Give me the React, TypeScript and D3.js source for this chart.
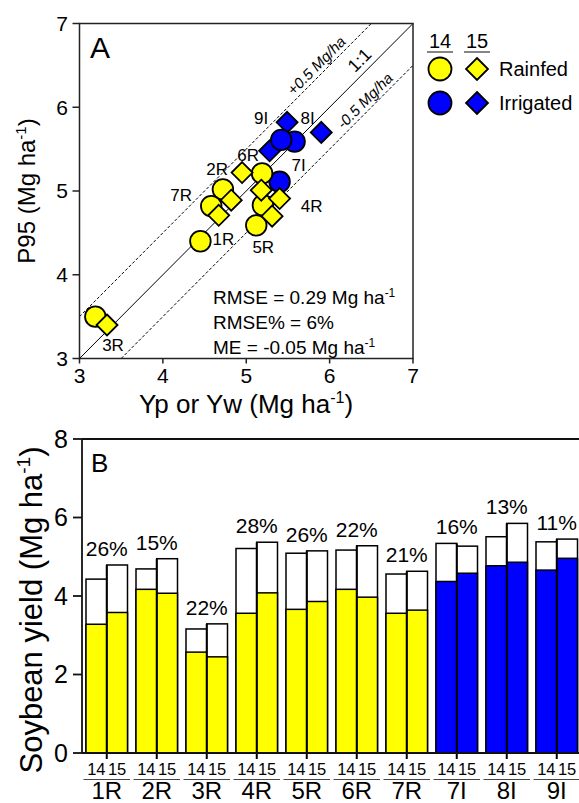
import React from 'react';
import * as d3 from 'd3';

// ---------- Data ----------
const sites = ['1R', '2R', '3R', '4R', '5R', '6R', '7R', '7I', '8I', '9I'];
const regimes = ['Rainfed', 'Rainfed', 'Rainfed', 'Rainfed', 'Rainfed', 'Rainfed', 'Rainfed', 'Irrigated', 'Irrigated', 'Irrigated'];
const years = ['14', '15'];

// Panel A: simulated (Yp or Yw) vs P95
const ypYw14 = [4.45, 4.72, 3.19, 5.2, 5.12, 5.19, 4.58, 5.4, 5.58, 5.42];
const p95Y14 = [4.4, 5.02, 3.5, 4.83, 4.59, 5.21, 4.82, 5.11, 5.59, 5.61];
const ypYw15 = [4.82, 4.95, 3.33, 5.4, 5.31, 5.18, 4.67, 5.28, 5.9, 5.49];
const p95Y15 = [4.89, 5.22, 3.4, 4.91, 4.7, 5.01, 4.71, 5.48, 5.7, 5.82];
const statLines = ['RMSE = 0.29 Mg ha', 'RMSE% = 6%', 'ME = -0.05 Mg ha'];
const statSup = [true, false, true];

// Panel B: yield potential (total bar) and actual yield (coloured part)
const potential14 = [4.43, 4.69, 3.16, 5.21, 5.09, 5.17, 4.56, 5.34, 5.51, 5.38];
const potential15 = [4.79, 4.95, 3.29, 5.37, 5.15, 5.28, 4.63, 5.27, 5.85, 5.45];
const actual14 = [3.28, 4.17, 2.57, 3.56, 3.66, 4.17, 3.56, 4.37, 4.77, 4.66];
const actual15 = [3.58, 4.07, 2.45, 4.08, 3.86, 3.97, 3.64, 4.58, 4.86, 4.96];
const gapLabels = ['26%', '15%', '22%', '28%', '26%', '22%', '21%', '16%', '13%', '11%'];

const ticksA = [3, 4, 5, 6, 7];
const ticksB = [0, 2, 4, 6, 8];

// ---------- Style ----------
const FONT = 'Arial, "Liberation Sans", Helvetica, sans-serif';
const YELLOW = '#FFFF00';
const BLUE = '#0000FF';
const colorOf = (r: string) => (r === 'Irrigated' ? BLUE : YELLOW);

// label placements relative to a point (site -> which point, dx, dy)
const labelPlacement: Record<string, { year: string; dx: number; dy: number }> = {
  '1R': { year: '14', dx: 23, dy: -2 },
  '2R': { year: '15', dx: -25, dy: -4 },
  '3R': { year: '15', dx: 6, dy: 20 },
  '4R': { year: '15', dx: 32, dy: 8 },
  '5R': { year: '14', dx: 7, dy: 22 },
  '6R': { year: '14', dx: -14, dy: -18 },
  '7R': { year: '14', dx: -30, dy: -11 },
  '7I': { year: '14', dx: 19, dy: -17 },
  '8I': { year: '14', dx: 13, dy: -24 },
  '9I': { year: '15', dx: -26, dy: -4 },
};

const diamond = (cx: number, cy: number, h: number) =>
  `M${cx},${cy - h}L${cx + h},${cy}L${cx},${cy + h}L${cx - h},${cy}Z`;

export default function App() {
  // ----- Panel A scales -----
  const xA = d3.scaleLinear().domain([3, 7]).range([79.5, 413]);
  const yA = d3.scaleLinear().domain([3, 7]).range([358.5, 23.5]);

  const pts = sites.flatMap((s, i) => [
    { site: s, year: '14', regime: regimes[i], x: ypYw14[i], y: p95Y14[i] },
    { site: s, year: '15', regime: regimes[i], x: ypYw15[i], y: p95Y15[i] },
  ]);
  const order = (p: any) =>
    p.regime === 'Irrigated' ? (p.year === '15' ? 0 : 1) : p.year === '14' ? 2 : 3;
  const sortedPts = [...pts].sort((a, b) => order(a) - order(b));

  const line = d3
    .line<[number, number]>()
    .x((d) => xA(d[0]))
    .y((d) => yA(d[1]));

  const angle = (Math.atan2(yA(7) - yA(3), xA(7) - xA(3)) * 180) / Math.PI;

  const lineText = (xv: number, off: number, txt: string, size: number, up: number, italic = false) => (
    <text
      transform={`translate(${xA(xv)},${yA(xv + off)}) rotate(${angle})`}
      y={-up}
      textAnchor="middle"
      fontSize={size}
      fontFamily={FONT}
      fontStyle={italic ? 'italic' : 'normal'}
    >
      {txt}
    </text>
  );

  // ----- Panel B scales -----
  const xB = d3.scaleBand<string>().domain(sites).range([82, 581.5]).paddingInner(0.17).paddingOuter(0.08);
  const xSub = d3.scaleBand<string>().domain(years).range([0, xB.bandwidth()]);
  const yB = d3.scaleLinear().domain([0, 8]).range([753, 439]);

  const bars = sites.flatMap((s, i) => [
    { site: s, year: '14', regime: regimes[i], pot: potential14[i], act: actual14[i] },
    { site: s, year: '15', regime: regimes[i], pot: potential15[i], act: actual15[i] },
  ]);

  return (
    <svg
      width={579}
      height={803}
      style={{ position: 'absolute', left: 0, top: 0, background: '#fff' }}
      fontFamily={FONT}
    >
      <rect x={0} y={0} width={579} height={803} fill="#fff" />
      {/* ================= Panel A ================= */}
      <g>
        {/* 1:1 and ±0.5 lines */}
        <path d={line([[3, 3], [7, 7]])!} stroke="#000" strokeWidth={1} fill="none" />
        <path d={line([[3, 3.5], [6.5, 7]])!} stroke="#000" strokeWidth={1} strokeDasharray="3,2" fill="none" />
        <path d={line([[3.5, 3], [7, 6.5]])!} stroke="#000" strokeWidth={1} strokeDasharray="3,2" fill="none" />
        {lineText(5.92, 0.5, '+0.5 Mg/ha', 15, 4, true)}
        {lineText(6.46, 0, '1:1', 18, 6)}
        {lineText(6.5, -0.5, '-0.5 Mg/ha', 15, 4, true)}

        {/* frame */}
        <rect x={xA(3)} y={yA(7)} width={xA(7) - xA(3)} height={yA(3) - yA(7)} fill="none" stroke="#222" strokeWidth={1.5} />
        {ticksA.map((t) => (
          <g key={'ya' + t}>
            <line x1={xA(3) - 7} x2={xA(3)} y1={yA(t)} y2={yA(t)} stroke="#222" strokeWidth={1.5} />
            <text x={68} y={yA(t)} dy="0.35em" textAnchor="end" fontSize={21}>
              {t}
            </text>
          </g>
        ))}
        {ticksA.map((t) => (
          <g key={'xa' + t}>
            <line x1={xA(t)} x2={xA(t)} y1={yA(3)} y2={yA(3) + 5} stroke="#222" strokeWidth={1.5} />
            <text x={xA(t)} y={383} textAnchor="middle" fontSize={21}>
              {t}
            </text>
          </g>
        ))}
        <text x={246} y={413} textAnchor="middle" fontSize={26}>
          Yp or Yw (Mg ha<tspan fontSize={16} dy={-10}>-1</tspan>
          <tspan dy={10}>)</tspan>
        </text>
        <text transform={`translate(35,${(yA(3) + yA(7)) / 2}) rotate(-90)`} textAnchor="middle" fontSize={24}>
          P95 (Mg ha<tspan fontSize={15} dy={-9}>-1</tspan>
          <tspan dy={9}>)</tspan>
        </text>
        <text x={90} y={58} fontSize={30}>A</text>

        {/* points */}
        {sortedPts.map((p) =>
          p.year === '14' ? (
            <circle
              key={p.site + p.year}
              cx={xA(p.x)}
              cy={yA(p.y)}
              r={10.3}
              fill={colorOf(p.regime)}
              stroke="#000"
              strokeWidth={1.8}
            />
          ) : (
            <path
              key={p.site + p.year}
              d={diamond(xA(p.x), yA(p.y), 10.5)}
              fill={colorOf(p.regime)}
              stroke="#000"
              strokeWidth={1.8}
            />
          )
        )}
        {sites.map((s) => {
          const lp = labelPlacement[s];
          const p = pts.find((q) => q.site === s && q.year === lp.year)!;
          return (
            <text key={'lab' + s} x={xA(p.x) + lp.dx} y={yA(p.y) + lp.dy} dy="0.35em" textAnchor="middle" fontSize={17}>
              {s}
            </text>
          );
        })}

        {/* stats */}
        {statLines.map((t, i) => (
          <text key={'st' + i} x={213} y={304 + i * 25} fontSize={19}>
            {t}
            {statSup[i] ? (
              <tspan fontSize={12} dy={-7}>
                -1
              </tspan>
            ) : null}
          </text>
        ))}

        {/* legend */}
        {years.map((y, j) => {
          const cx = j === 0 ? 440 : 477;
          return (
            <g key={'lg' + y}>
              <text x={cx} y={48} textAnchor="middle" fontSize={20}>
                {y}
              </text>
              <line x1={cx - 13} x2={cx + 13} y1={52} y2={52} stroke="#333" strokeWidth={1.2} />
            </g>
          );
        })}
        {['Rainfed', 'Irrigated'].map((r, k) => {
          const cy = k === 0 ? 69 : 103;
          return (
            <g key={'lr' + r}>
              <circle cx={440} cy={cy} r={11.5} fill={colorOf(r)} stroke="#000" strokeWidth={1.8} />
              <path d={diamond(477, cy, 11)} fill={colorOf(r)} stroke="#000" strokeWidth={1.8} />
              <text x={499} y={cy + 7} fontSize={20}>
                {r}
              </text>
            </g>
          );
        })}
      </g>

      {/* ================= Panel B ================= */}
      <g>
        {bars.map((b) => {
          const x0 = xB(b.site)! + xSub(b.year)!;
          const w = xSub.bandwidth();
          return (
            <g key={'bar' + b.site + b.year}>
              <rect x={x0} y={yB(b.pot)} width={w} height={yB(0) - yB(b.pot)} fill="#fff" stroke="#000" strokeWidth={1.5} />
              <rect x={x0} y={yB(b.act)} width={w} height={yB(0) - yB(b.act)} fill={colorOf(b.regime)} stroke="#000" strokeWidth={1.5} />
            </g>
          );
        })}
        {sites.map((s, i) => {
          const cx = xB(s)! + xB.bandwidth() / 2;
          const top = Math.max(potential14[i], potential15[i]);
          return (
            <g key={'grp' + s}>
              <line x1={cx} x2={cx} y1={yB(0)} y2={yB(0) + 6} stroke="#000" strokeWidth={2} />
              <line x1={cx} x2={cx} y1={yB(top)} y2={yB(0)} stroke="#000" strokeWidth={2} />
              <text x={cx} y={yB(top) - 9} textAnchor="middle" fontSize={21}>
                {gapLabels[i]}
              </text>
              {years.map((y) => (
                <text key={y} x={xB(s)! + xSub(y)! + xSub.bandwidth() / 2} y={775} textAnchor="middle" fontSize={16.5}>
                  {y}
                </text>
              ))}
              <line x1={xB(s)! - 2.5} x2={xB(s)! + xB.bandwidth() + 2.5} y1={779.5} y2={779.5} stroke="#444" strokeWidth={1.2} />
              <text x={cx} y={799} textAnchor="middle" fontSize={24}>
                {s}
              </text>
            </g>
          );
        })}
        {/* axes */}
        <line x1={82} x2={82} y1={yB(8)} y2={yB(0)} stroke="#111" strokeWidth={1.8} />
        <line x1={82} x2={579} y1={yB(0)} y2={yB(0)} stroke="#111" strokeWidth={1.8} />
        <line x1={82} x2={579} y1={yB(8)} y2={yB(8)} stroke="#111" strokeWidth={1.8} />
        {ticksB.map((t) => (
          <g key={'yb' + t}>
            <line x1={73} x2={82} y1={yB(t)} y2={yB(t)} stroke="#111" strokeWidth={1.8} />
            <text x={68} y={yB(t)} dy="0.35em" textAnchor="end" fontSize={25}>
              {t}
            </text>
          </g>
        ))}
        <text x={91} y={472} fontSize={26}>B</text>
        <text transform={`translate(42,${(yB(0) + yB(8)) / 2 + 14}) rotate(-90)`} textAnchor="middle" fontSize={31}>
          Soybean yield (Mg ha<tspan fontSize={19} dy={-12}>-1</tspan>
          <tspan dy={12}>)</tspan>
        </text>
      </g>
    </svg>
  );
}
